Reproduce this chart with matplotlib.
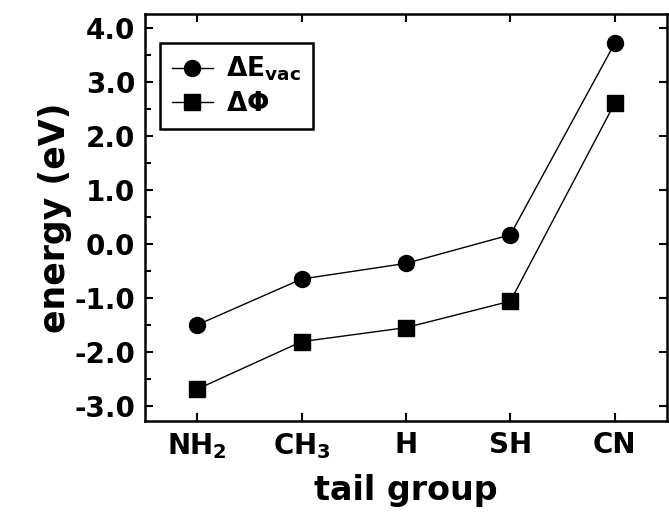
import matplotlib
matplotlib.use("Agg")
import matplotlib.pyplot as plt
from matplotlib.ticker import MultipleLocator

groups = ["NH$_2$", "CH$_3$", "H", "SH", "CN"]
delta_evac = [-1.50, -0.65, -0.36, 0.17, 3.72]
delta_phi = [-2.69, -1.81, -1.55, -1.06, 2.61]

plt.rcParams["font.family"] = "DejaVu Sans"
plt.rcParams["font.weight"] = "bold"
plt.rcParams["mathtext.default"] = "bf"

fig = plt.figure(figsize=(6.69, 5.15), dpi=100)
ax = fig.add_axes([145 / 669, 1 - 421 / 515, 522 / 669, 407 / 515])

x = list(range(len(groups)))
ax.plot(x, delta_evac, "-o", color="black", lw=1.0, ms=11.5,
        label=r"$\mathbf{\Delta E_{vac}}$")
ax.plot(x, delta_phi, "-s", color="black", lw=1.0, ms=11.5,
        label=r"$\mathbf{\Delta \Phi}$")

ax.set_xlim(-0.5, 4.5)
ax.set_ylim(-3.28, 4.26)
ax.set_xticks(x)
ax.set_xticklabels(groups)
ax.yaxis.set_major_locator(MultipleLocator(1.0))
ax.yaxis.set_minor_locator(MultipleLocator(0.5))
ax.yaxis.set_major_formatter(plt.FormatStrFormatter("%.1f"))

ax.tick_params(axis="both", which="major", direction="in", length=6, width=1.5,
               labelsize=20, top=True, right=True, pad=7)
ax.tick_params(axis="x", which="major", pad=7)
ax.tick_params(axis="y", which="minor", direction="in", length=4, width=1.5,
               right=False)
for lab in ax.get_xticklabels() + ax.get_yticklabels():
    lab.set_fontweight("bold")
for sp in ax.spines.values():
    sp.set_linewidth(1.8)

ax.set_xlabel("tail group", fontsize=24, fontweight="bold", labelpad=10)
ax.set_ylabel("energy (eV)", fontsize=25, fontweight="bold", labelpad=2)

leg = ax.legend(loc="upper left", bbox_to_anchor=(0.029, 0.929), fontsize=19,
                frameon=True, fancybox=False, edgecolor="black", framealpha=1.0,
                handlelength=1.55, borderpad=0.45, labelspacing=0.3,
                handletextpad=0.5, borderaxespad=0.0)
leg.get_frame().set_linewidth(1.8)

fig.savefig("out.png", dpi=100)
